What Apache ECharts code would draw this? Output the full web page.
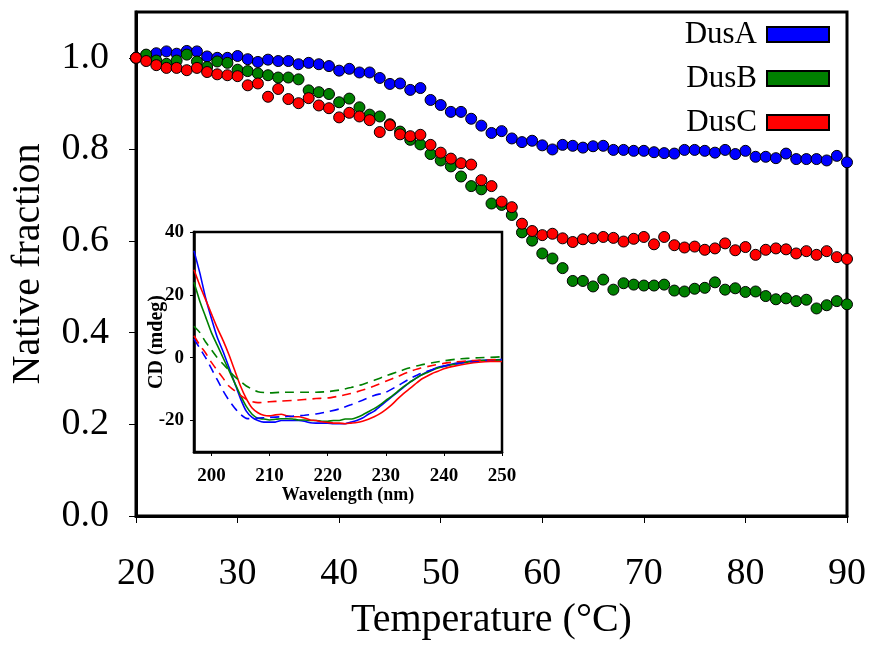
<!DOCTYPE html>
<html>
<head>
<meta charset="utf-8">
<script src="https://cdn.jsdelivr.net/npm/echarts@6/dist/echarts.min.js"></script>
<style>html,body{margin:0;padding:0;background:#fff;}#c{width:870px;height:645px;}</style>
</head>
<body>
<div id="c"></div>
<script>
// ---- main panel data ----
var temps = [20,21,22,23,24,25,26,27,28,29,30,31,32,33,34,35,36,37,38,39,40,41,42,43,44,45,46,47,48,49,50,51,52,53,54,55,56,57,58,59,60,61,62,63,64,65,66,67,68,69,70,71,72,73,74,75,76,77,78,79,80,81,82,83,84,85,86,87,88,89,90];
var dusA = [1.000,1.005,1.010,1.014,1.009,1.015,1.014,1.003,1.000,1.000,1.004,0.997,0.991,0.996,0.993,0.993,0.986,0.989,0.986,0.982,0.972,0.976,0.968,0.968,0.956,0.943,0.944,0.930,0.934,0.908,0.897,0.882,0.882,0.867,0.852,0.836,0.840,0.824,0.816,0.819,0.809,0.800,0.810,0.808,0.804,0.807,0.808,0.799,0.799,0.797,0.797,0.794,0.792,0.791,0.799,0.799,0.797,0.793,0.799,0.790,0.797,0.784,0.784,0.781,0.791,0.779,0.779,0.779,0.776,0.786,0.772];
var dusB = [1.000,1.007,0.994,0.987,0.994,1.007,0.992,0.980,0.992,0.989,0.974,0.971,0.966,0.962,0.957,0.957,0.953,0.929,0.925,0.921,0.903,0.911,0.892,0.876,0.872,0.855,0.839,0.821,0.811,0.790,0.776,0.763,0.741,0.720,0.713,0.682,0.679,0.657,0.619,0.601,0.573,0.562,0.541,0.513,0.513,0.501,0.516,0.494,0.508,0.505,0.503,0.503,0.505,0.492,0.490,0.496,0.498,0.510,0.494,0.497,0.489,0.490,0.480,0.473,0.475,0.469,0.472,0.453,0.460,0.469,0.462];
var dusC = [1.000,0.993,0.984,0.978,0.978,0.973,0.978,0.969,0.964,0.962,0.960,0.940,0.944,0.915,0.932,0.910,0.901,0.912,0.896,0.890,0.870,0.880,0.872,0.864,0.838,0.853,0.833,0.829,0.832,0.810,0.793,0.780,0.770,0.767,0.733,0.720,0.686,0.674,0.638,0.622,0.613,0.616,0.606,0.598,0.604,0.606,0.609,0.607,0.599,0.605,0.609,0.593,0.609,0.591,0.586,0.588,0.581,0.584,0.595,0.580,0.587,0.570,0.581,0.584,0.582,0.573,0.578,0.570,0.578,0.565,0.561];
var mainYTicks = [0, 0.2, 0.4, 0.6, 0.8, 1.0];
var seriesNames = ['DusA', 'DusB', 'DusC'];

// ---- inset (CD spectra) data ----
var wlSolid = [197,198,199,200,201,202,203,204,205,206,207,208,209,210,211,212,213,214,215,216,217,218,219,220,221,222,223,224,225,226,227,228,229,230,231,232,233,234,235,236,237,238,239,240,242,244,246,248,250];
var cdA = [34,27,19,12.5,6.5,2,-3,-8,-13,-17,-19,-20,-20.5,-20.5,-20.5,-20,-20,-20,-20,-20.2,-20.7,-20.8,-20.8,-20.8,-21,-21,-21,-20.5,-20,-19.2,-18,-17,-15.5,-14,-12.5,-11,-9.5,-8,-6.8,-5.6,-4.6,-3.8,-3,-2.6,-1.8,-1.2,-0.9,-0.7,-0.6];
var cdB = [24,18,13,8,4,0,-4,-8,-12,-15.5,-18,-19.3,-19.5,-19.8,-19.6,-19.4,-19.4,-19.5,-19.8,-19.8,-20,-20,-20.2,-20.2,-20,-20,-19.5,-19.5,-19,-18.2,-17.2,-16.2,-15,-13.6,-12.3,-10.8,-9.3,-8,-6.8,-5.6,-4.8,-4,-3.3,-2.8,-2,-1.4,-0.9,-0.8,-0.7];
var cdC = [28,23,18.5,14,9.5,5.5,1,-4,-9,-13,-16,-17.5,-18.3,-18.5,-18.2,-18,-18.5,-18.8,-18.8,-19.2,-19.8,-20,-20.4,-20.6,-20.8,-20.8,-21,-20.8,-20.6,-20.2,-19.6,-18.8,-17.8,-16.5,-15,-13.2,-11.5,-10,-8.5,-7,-6,-5,-4.3,-3.5,-2.6,-1.9,-1.4,-1.2,-1.2];
var wlDash = [197,198,199,200,201,202,203,204,205,206,207,208,210,212,214,216,218,220,222,224,226,228,230,232,234,236,238,240,242,244,246,248,250];
var cdAdash = [6,3,0,-3.5,-7,-10.5,-13.5,-16,-18,-19.3,-19.4,-19.2,-19,-18.8,-18.6,-18.3,-17.9,-17.2,-16.3,-15,-13.5,-12,-11,-9,-6.8,-5,-3.8,-2.7,-2,-1.4,-1,-0.8,-0.6];
var cdBdash = [10,8,5,2.5,0,-2,-4,-6,-7.5,-9,-10,-10.8,-11.2,-11,-11,-11,-11,-10.8,-10.3,-9.5,-8.5,-7.2,-5.8,-4.5,-3.3,-2.3,-1.6,-1,-0.5,-0.2,0,0.1,0.3];
var cdCdash = [7,4,1.5,-1.5,-4,-6.5,-9,-10.5,-12,-13.2,-14,-14.3,-14,-13.8,-13.6,-13.3,-13,-12.8,-12.2,-11.4,-10.3,-9,-7.5,-6,-4.5,-3.3,-2.5,-1.8,-1.3,-1,-0.8,-0.7,-0.5];
var insetYTicks = [-20, 0, 20, 40];
var insetXTicks = [200, 210, 220, 230, 240, 250];

var colors = ['#0000ff', '#008000', '#ff0000'];
var serif = "'Times New Roman', 'Liberation Serif', serif";

function pairs(xs, ys) { return xs.map(function (x, i) { return [x, ys[i]]; }); }

var chart = echarts.init(document.getElementById('c'), null, { renderer: 'canvas' });

var mainSets = [dusA, dusB, dusC];
var series = [];
mainSets.forEach(function (vals, k) {
  series.push({
    name: seriesNames[k], type: 'scatter', xAxisIndex: 0, yAxisIndex: 0,
    data: pairs(temps, vals), symbol: 'circle', symbolSize: 11,
    itemStyle: { color: colors[k], borderColor: '#000', borderWidth: 1, opacity: 1 },
    z: 3 + k, silent: true
  });
});
var insetSolid = [cdA, cdB, cdC];
var insetDash = [cdAdash, cdBdash, cdCdash];
insetSolid.forEach(function (vals, k) {
  series.push({
    type: 'line', xAxisIndex: 1, yAxisIndex: 1, data: pairs(wlSolid, vals),
    showSymbol: false, smooth: 0.2, lineStyle: { color: colors[k], width: 1.6 }, z: 10, silent: true
  });
});
insetDash.forEach(function (vals, k) {
  series.push({
    type: 'line', xAxisIndex: 1, yAxisIndex: 1, data: pairs(wlDash, vals),
    showSymbol: false, smooth: 0.2, lineStyle: { color: colors[k], width: 1.6, type: [9, 6] }, z: 10, silent: true
  });
});

chart.setOption({
  animation: false,
  backgroundColor: '#fff',
  legend: {
    data: seriesNames, orient: 'vertical', right: 35, top: 14, align: 'right',
    itemWidth: 62, itemHeight: 15, itemGap: 13, icon: 'rect',
    textStyle: { fontFamily: serif, fontSize: 31, color: '#000', lineHeight: 31, padding: [0, 5, 0, 0] },
    selectedMode: false
  },
  grid: [
    { left: 135, right: 23, top: 12, bottom: 121, show: true, borderColor: '#000', borderWidth: 3, backgroundColor: 'transparent' },
    { left: 194, right: 368, top: 232, bottom: 193, show: true, borderColor: '#000', borderWidth: 2.5, backgroundColor: '#fff', z: 8 }
  ],
  xAxis: [
    {
      gridIndex: 0, type: 'value', min: 20, max: 90, interval: 10,
      name: 'Temperature (°C)', nameLocation: 'middle', nameGap: 84, nameMoveOverlap: false,
      nameTextStyle: { fontFamily: serif, fontSize: 40, color: '#000' },
      axisLine: { show: true, onZero: false, lineStyle: { color: '#000', width: 3 } },
      axisTick: { show: true, inside: false, length: 7, lineStyle: { color: '#000', width: 1 } },
      axisLabel: { fontFamily: serif, fontSize: 38, color: '#000', margin: 39 },
      splitLine: { show: false }
    },
    {
      gridIndex: 1, type: 'value', min: 197, max: 250,
      name: 'Wavelength (nm)', nameLocation: 'middle', nameGap: 34, nameMoveOverlap: false,
      nameTextStyle: { fontFamily: serif, fontSize: 18, fontWeight: 'bold', color: '#000' },
      axisLine: { show: true, onZero: false, lineStyle: { color: '#000', width: 2.5 } },
      axisTick: { show: true, length: 4, customValues: insetXTicks, lineStyle: { color: '#000', width: 1 } },
      axisLabel: { fontFamily: serif, fontSize: 19, fontWeight: 'bold', color: '#000', margin: 15, customValues: insetXTicks },
      splitLine: { show: false }, z: 9
    }
  ],
  yAxis: [
    {
      gridIndex: 0, type: 'value', min: 0, max: 1.1,
      name: 'Native fraction', nameLocation: 'middle', nameGap: 88, nameMoveOverlap: false,
      nameTextStyle: { fontFamily: serif, fontSize: 40, color: '#000' },
      axisLine: { show: true, onZero: false, lineStyle: { color: '#000', width: 3 } },
      axisTick: { show: true, length: 7, customValues: mainYTicks, lineStyle: { color: '#000', width: 1 } },
      axisLabel: { fontFamily: serif, fontSize: 38, color: '#000', margin: 27, customValues: mainYTicks,
        formatter: function (v) { return v.toFixed(1); } },
      splitLine: { show: false }
    },
    {
      gridIndex: 1, type: 'value', min: -30, max: 40,
      name: 'CD (mdeg)', nameLocation: 'middle', nameGap: 27, nameMoveOverlap: false,
      nameTextStyle: { fontFamily: serif, fontSize: 20, fontWeight: 'bold', color: '#000' },
      axisLine: { show: true, onZero: false, lineStyle: { color: '#000', width: 2.5 } },
      axisTick: { show: true, length: 4, customValues: insetYTicks, lineStyle: { color: '#000', width: 1 } },
      axisLabel: { fontFamily: serif, fontSize: 19, fontWeight: 'bold', color: '#000', margin: 10, customValues: insetYTicks },
      splitLine: { show: false }, z: 9
    }
  ],
  series: series
});
</script>
</body>
</html>
